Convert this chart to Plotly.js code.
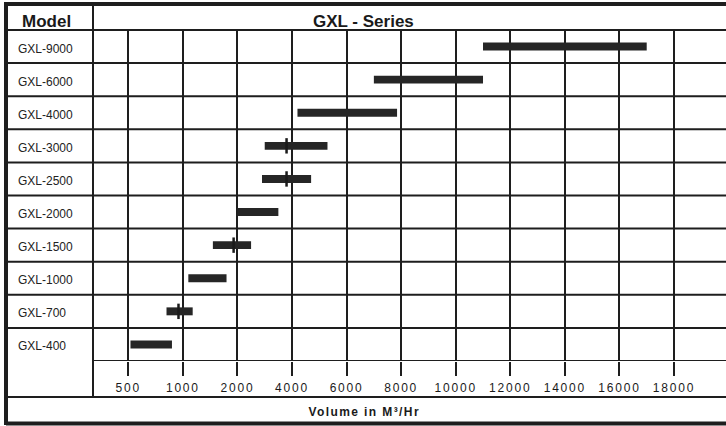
<!DOCTYPE html>
<html>
<head>
<meta charset="utf-8">
<script src="https://cdn.plot.ly/plotly-3.0.1.min.js"></script>
<style>
  html, body { margin: 0; padding: 0; background: #fff; }
  #chart { width: 726px; height: 426px; }
  .xtick text { letter-spacing: 1.8px; }
  .annotation[data-index="12"] text { letter-spacing: 1.4px; }
</style>
</head>
<body>
<div id="chart"></div>
<script>
// ---- data ----
const tickVolumes = [500, 1000, 2000, 4000, 6000, 8000, 10000, 12000, 14000, 16000, 18000];
const tickLabels  = ['500', '1000', '2000', '4000', '6000', '8000', '10000', '12000', '14000', '16000', '18000'];
const models      = ['GXL-9000', 'GXL-6000', 'GXL-4000', 'GXL-3000', 'GXL-2500', 'GXL-2000', 'GXL-1500', 'GXL-1000', 'GXL-700', 'GXL-400'];
const volumeMin   = [11000, 7000, 4200, 3000, 2900, 2000, 1550, 1100, 850, 520];
const volumeMax   = [17000, 11000, 7850, 5300, 4700, 3500, 2500, 1800, 1180, 900];
const markModels  = ['GXL-3000', 'GXL-2500', 'GXL-1500', 'GXL-700'];
const markVolumes = [3800, 3800, 1930, 960];
const headerLeft  = 'Model';
const headerTitle = 'GXL - Series';
const axisTitle   = 'Volume in M³/Hr';

// ---- scale: the chart's axis is piecewise-linear between its labelled ticks ----
function toAxis(v) {
  for (let i = 0; i < tickVolumes.length - 1; i++) {
    if (v <= tickVolumes[i + 1] || i === tickVolumes.length - 2) {
      return i + (v - tickVolumes[i]) / (tickVolumes[i + 1] - tickVolumes[i]);
    }
  }
}
const rowOf = m => models.length - 1 - models.indexOf(m);

// ---- layout helpers (pixel -> paper) ----
const W = 726, H = 426, ML = 93, MR = 0, MT = 30, MB = 65;
const PW = W - ML - MR, PH = H - MT - MB;
const px = x => (x - ML) / PW;
const py = y => (H - MB - y) / PH;
const INK = '#1e1e1e';
const FONT = 'Liberation Sans, Arial, sans-serif';

const bars = {
  type: 'bar',
  orientation: 'h',
  y: models.map(m => rowOf(m)),
  base: volumeMin.map(toAxis),
  x: volumeMin.map((v, i) => toAxis(volumeMax[i]) - toAxis(v)),
  width: 0.24,
  marker: { color: '#262626' },
  hoverinfo: 'skip'
};
const marks = {
  type: 'scatter',
  mode: 'markers',
  x: markVolumes.map(toAxis),
  y: markModels.map(rowOf),
  marker: { symbol: 'line-ns', size: 11, line: { width: 2.5, color: '#1a1a1a' } },
  hoverinfo: 'skip'
};

const shapes = [];
const line = (x0, y0, x1, y1, w, xr, yr) => shapes.push({
  type: 'line', xref: xr || 'paper', yref: yr || 'paper',
  x0, y0, x1, y1, line: { color: INK, width: w }
});
// outer frame
line(px(6), py(4), px(740), py(4), 4);
line(px(6), py(2), px(6), py(425), 4);
line(px(6), py(423.5), px(740), py(423.5), 4);
// header bottom
line(px(6), py(30), 1.05, py(30), 2);
// row dividers (extend through the Model column)
for (let k = 1; k < models.length; k++) {
  shapes.push({ type: 'line', xref: 'paper', yref: 'y', x0: px(6), x1: 1.05, y0: k - 0.5, y1: k - 0.5,
    line: { color: INK, width: 2 } });
}
// bottom of plot grid
shapes.push({ type: 'line', xref: 'paper', yref: 'y', x0: 0, x1: 1.05, y0: -0.5, y1: -0.5,
  line: { color: INK, width: 2 } });
// line under tick labels
line(px(6), py(397), px(740), py(397), 2);
// Model column divider
line(0, py(4), 0, py(397), 2);

const annotations = [];
models.forEach(m => annotations.push({
  xref: 'paper', yref: 'y', x: px(16), y: rowOf(m) - 0.06, xanchor: 'left', yanchor: 'middle',
  text: m, showarrow: false, font: { family: FONT, size: 12, color: '#222' }
}));
annotations.push({ xref: 'paper', yref: 'paper', x: px(46), y: py(21.5), xanchor: 'center', yanchor: 'middle',
  text: '<b>' + headerLeft + '</b>', showarrow: false, font: { family: FONT, size: 17, color: '#1a1a1a' } });
annotations.push({ xref: 'paper', yref: 'paper', x: px(363), y: py(21.5), xanchor: 'center', yanchor: 'middle',
  text: '<b>' + headerTitle + '</b>', showarrow: false, font: { family: FONT, size: 17, color: '#1a1a1a' } });
annotations.push({ xref: 'paper', yref: 'paper', x: px(364), y: py(412), xanchor: 'center', yanchor: 'middle',
  text: '<b>' + axisTitle + '</b>', showarrow: false, font: { family: FONT, size: 12, color: '#1a1a1a' } });

const idx0 = 128.3, step = 54.57;
const layout = {
  width: W, height: H,
  margin: { l: ML, r: MR, t: MT, b: MB, pad: 0 },
  paper_bgcolor: '#fff', plot_bgcolor: '#fff',
  showlegend: false,
  barmode: 'overlay',
  xaxis: {
    range: [(ML - idx0) / step, (W - MR - idx0) / step],
    tickmode: 'array',
    tickvals: tickLabels.map((_, i) => i),
    ticktext: tickLabels,
    showgrid: true, gridcolor: INK, gridwidth: 2,
    zeroline: false, showline: false,
    ticks: 'outside', ticklen: 14, tickwidth: 2, tickcolor: INK,
    ticklabelstandoff: 2,
    tickfont: { family: FONT, size: 12, color: '#1a1a1a' },
    fixedrange: true
  },
  yaxis: {
    range: [-0.5, models.length - 0.5],
    showgrid: false, zeroline: false, showline: false,
    showticklabels: false, ticks: '', fixedrange: true
  },
  shapes, annotations
};

Plotly.newPlot('chart', [bars, marks], layout, { displayModeBar: false, staticPlot: true });
</script>
</body>
</html>
